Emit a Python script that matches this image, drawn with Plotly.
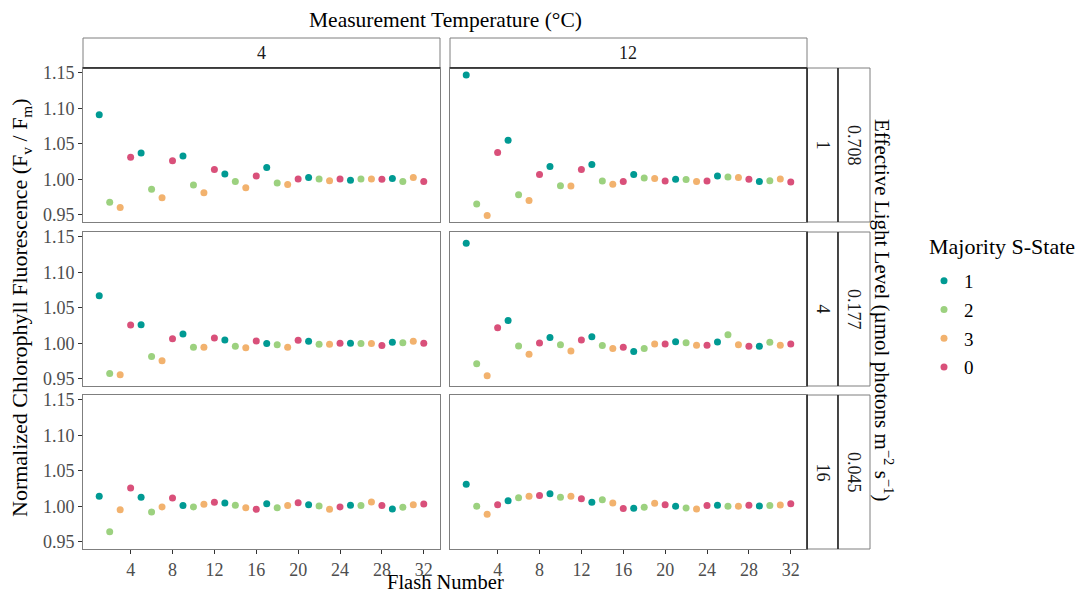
import plotly.graph_objects as go

W, H = 1075, 594

flash = list(range(1, 33))
state_cycle = ["1", "2", "3", "0"]
states = [state_cycle[(f - 1) % 4] for f in flash]

temps = ["4", "12"]
light_inner = ["1", "4", "16"]
light_outer = ["0.708", "0.177", "0.045"]

# values: [row][col]
v_r1_t4 = [1.091, 0.9675, 0.960, 1.031, 1.037, 0.986, 0.974, 1.026, 1.033, 0.992, 0.981, 1.0137,
           1.0075, 0.9967, 0.988, 1.0047, 1.0165, 0.9948, 0.9925, 1.0005, 1.0024, 1.0005, 0.998, 1.0005,
           0.9986, 1.0005, 1.0005, 1.000, 1.001, 0.9967, 1.0024, 0.997]
v_r1_t12 = [1.147, 0.965, 0.949, 1.0377, 1.055, 0.978, 0.970, 1.0066, 1.018, 0.991, 0.9906, 1.0137,
            1.0208, 0.9976, 0.993, 0.997, 1.0066, 1.0019, 1.001, 0.9976, 1.000, 0.9995, 0.997, 0.9976,
            1.0047, 1.0033, 1.0024, 1.000, 0.997, 0.998, 1.0005, 0.996]
v_r2_t4 = [1.067, 0.9575, 0.9556, 1.0257, 1.0262, 0.9813, 0.9752, 1.0065, 1.0131, 0.9944, 0.9944, 1.0075,
           1.0047, 0.9958, 0.9935, 1.0033, 0.9995, 0.998, 0.9944, 1.0042, 1.0028, 0.9986, 0.9986, 1.000,
           1.000, 0.9995, 0.9995, 0.9967, 1.0014, 1.0009, 1.0028, 1.000]
v_r2_t12 = [1.141, 0.971, 0.954, 1.022, 1.032, 0.9963, 0.9846, 1.0005, 1.008, 0.998, 0.989, 1.0047,
            1.0093, 0.9967, 0.9925, 0.9944, 0.9883, 0.9925, 0.999, 0.999, 1.0023, 1.0009, 0.9972, 0.9972,
            1.0019, 1.0121, 0.998, 0.9958, 0.9958, 1.0014, 0.9972, 0.999]
v_r3_t4 = [1.014, 0.964, 0.995, 1.0256, 1.0126, 0.992, 0.999, 1.0116, 1.001, 0.999, 1.0028, 1.0056,
           1.0047, 1.0014, 0.998, 0.9958, 1.0037, 0.998, 1.001, 1.0051, 1.0023, 1.0005, 0.9958, 0.999,
           1.0014, 1.001, 1.006, 1.001, 0.9963, 0.9986, 1.0023, 1.0033]
v_r3_t12 = [1.031, 1.000, 0.9888, 1.0023, 1.0079, 1.0121, 1.014, 1.0153, 1.0177, 1.0126, 1.014, 1.0107,
            1.0056, 1.0093, 1.0047, 0.9967, 0.9972, 0.9986, 1.0042, 1.0023, 1.000, 0.9977, 0.9963, 1.001,
            1.0014, 1.000, 1.000, 1.0014, 1.0005, 1.001, 1.0019, 1.0037]

data = [[v_r1_t4, v_r1_t12], [v_r2_t4, v_r2_t12], [v_r3_t4, v_r3_t12]]

colors = {"1": "#009A93", "2": "#9CD17F", "3": "#F2B26E", "0": "#D9507A"}
legend_order = ["1", "2", "3", "0"]

x_ticks = [4, 8, 12, 16, 20, 24, 28, 32]
y_ticks = [0.95, 1.00, 1.05, 1.10, 1.15]
y_tick_text = ["0.95", "1.00", "1.05", "1.10", "1.15"]

FONT = "Liberation Serif"

# panel pixel boxes
cols_px = [(83, 440), (450, 807)]
rows_px = [(68, 222), (232, 386), (395, 549)]

def px_x(p):
    return p / W

def px_y(p):
    return 1 - p / H

fig = go.Figure()
layout_axes = {}
k = 0
for r in range(3):
    for c in range(2):
        k += 1
        xa = "x" if k == 1 else f"x{k}"
        ya = "y" if k == 1 else f"y{k}"
        vals = data[r][c]
        for s in legend_order:
            xs = [f for f, st in zip(flash, states) if st == s]
            ys = [v for v, st in zip(vals, states) if st == s]
            fig.add_trace(go.Scatter(
                x=xs, y=ys, mode="markers", xaxis=xa, yaxis=ya,
                marker=dict(color=colors[s], size=7, line=dict(width=0)),
                name=s, legendgroup=s, showlegend=(k == 1),
            ))
        x0, x1 = cols_px[c]
        y0, y1 = rows_px[r]
        xkey = "xaxis" if k == 1 else f"xaxis{k}"
        ykey = "yaxis" if k == 1 else f"yaxis{k}"
        bottom = (r == 2)
        left = (c == 0)
        layout_axes[xkey] = dict(
            domain=[px_x(x0), px_x(x1)], anchor=ya, range=[-0.55, 33.55],
            showgrid=False, zeroline=False, showline=True, mirror=True,
            linecolor="#7f7f7f", linewidth=1,
            tickvals=x_ticks, ticktext=[str(t) for t in x_ticks],
            ticks="outside" if bottom else "", ticklen=4, tickcolor="#333333",
            showticklabels=bottom, automargin=False,
            tickfont=dict(family=FONT, size=18, color="#4d4d4d"),
        )
        layout_axes[ykey] = dict(
            domain=[px_y(y1), px_y(y0)], anchor=xa, range=[0.9397, 1.157],
            showgrid=False, zeroline=False, showline=True, mirror=True,
            linecolor="#7f7f7f", linewidth=1,
            tickvals=y_ticks, ticktext=y_tick_text,
            ticks="outside" if left else "", ticklen=4, tickcolor="#333333",
            showticklabels=left, automargin=False,
            tickfont=dict(family=FONT, size=18, color="#4d4d4d"),
        )

shapes = []
annotations = []

# top strips
for c, t in enumerate(temps):
    x0, x1 = cols_px[c]
    shapes.append(dict(type="rect", xref="paper", yref="paper",
                       x0=px_x(x0), x1=px_x(x1), y0=px_y(68), y1=px_y(38),
                       line=dict(color="#7f7f7f", width=1), fillcolor="white", layer="below"))
    shapes.append(dict(type="line", xref="paper", yref="paper",
                       x0=px_x(x0), x1=px_x(x1), y0=px_y(68), y1=px_y(68),
                       line=dict(color="#222222", width=1.5)))
    annotations.append(dict(text=t, xref="paper", yref="paper",
                            x=px_x((x0 + x1) / 2), y=px_y(53), showarrow=False,
                            font=dict(family=FONT, size=18, color="#1a1a1a"),
                            xanchor="center", yanchor="middle"))

# right strips (two columns)
for r in range(3):
    y0, y1 = rows_px[r]
    for (sx0, sx1, txt) in [(807, 838, light_inner[r]), (838, 870, light_outer[r])]:
        shapes.append(dict(type="rect", xref="paper", yref="paper",
                           x0=px_x(sx0), x1=px_x(sx1), y0=px_y(y1), y1=px_y(y0),
                           line=dict(color="#7f7f7f", width=1), fillcolor="white", layer="below"))
        shapes.append(dict(type="line", xref="paper", yref="paper",
                           x0=px_x(sx0), x1=px_x(sx0), y0=px_y(y1), y1=px_y(y0),
                           line=dict(color="#222222", width=1.5)))
        annotations.append(dict(text=txt, xref="paper", yref="paper",
                                x=px_x((sx0 + sx1) / 2), y=px_y((y0 + y1) / 2),
                                showarrow=False, textangle=90,
                                font=dict(family=FONT, size=18, color="#1a1a1a"),
                                xanchor="center", yanchor="middle"))

# titles
annotations.append(dict(text="Measurement Temperature (°C)", xref="paper", yref="paper",
                        x=px_x(445), y=px_y(20), showarrow=False,
                        font=dict(family=FONT, size=21.5, color="black"),
                        xanchor="center", yanchor="middle"))
annotations.append(dict(text="Flash Number", xref="paper", yref="paper",
                        x=px_x(445), y=px_y(582), showarrow=False,
                        font=dict(family=FONT, size=20.5, color="black"),
                        xanchor="center", yanchor="middle"))
annotations.append(dict(text="Normalized Chlorophyll Fluorescence (F<sub>v</sub> / F<sub>m</sub>)",
                        xref="paper", yref="paper",
                        x=px_x(21), y=px_y(308), showarrow=False, textangle=-90,
                        font=dict(family=FONT, size=22, color="black"),
                        xanchor="center", yanchor="middle"))
annotations.append(dict(text="Effective Light Level (µmol photons m<sup>−2</sup> s<sup>−1</sup>)",
                        xref="paper", yref="paper",
                        x=px_x(884), y=px_y(310), showarrow=False, textangle=90,
                        font=dict(family=FONT, size=21, color="black"),
                        xanchor="center", yanchor="middle"))
# legend title as separate text
annotations.append(dict(text="Majority S-State", xref="paper", yref="paper",
                        x=px_x(927), y=px_y(246), showarrow=False,
                        font=dict(family=FONT, size=22, color="black"),
                        xanchor="left", yanchor="middle"))

fig.update_layout(
    width=W, height=H,
    margin=dict(l=0, r=0, t=0, b=0, autoexpand=False),
    paper_bgcolor="white", plot_bgcolor="white",
    shapes=shapes, annotations=annotations,
    showlegend=True,
    legend=dict(
        font=dict(family=FONT, size=19, color="black"),
        x=px_x(924), y=px_y(262), xanchor="left", yanchor="top",
        bgcolor="rgba(0,0,0,0)", itemsizing="trace", tracegroupgap=1,
    ),
    **layout_axes,
)

fig.write_html("out.html")
